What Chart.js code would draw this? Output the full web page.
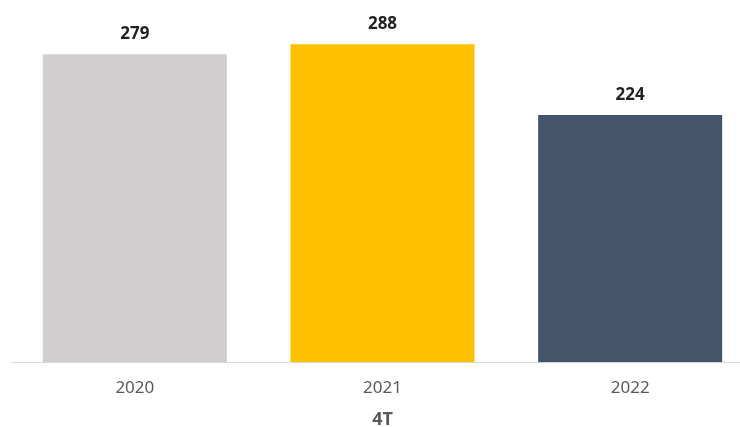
<!DOCTYPE html>
<html>
<head>
<meta charset="utf-8">
<script src="https://cdn.jsdelivr.net/npm/chart.js@4.4.1/dist/chart.umd.min.js"></script>
<style>
  html, body { margin: 0; padding: 0; background: #fff; overflow: hidden; }
  #wrap { width: 756px; height: 427px; }
</style>
</head>
<body>
<div id="wrap"><canvas id="chart" width="756" height="427"></canvas></div>
<script>
// chart data
const years = ["2020", "2021", "2022"];
const totals = [279, 288, 224];
const barColors = ["#D0CECE", "#FFC000", "#44546A"];
const axisTitle = "4T";

const FONT = "'Noto Sans', 'Open Sans', sans-serif";

// draws the value above each bar
const valueLabels = {
    id: "valueLabels",
    afterDatasetsDraw(chart) {
        const ctx = chart.ctx;
        const meta = chart.getDatasetMeta(0);
        ctx.save();
        ctx.font = "bold 17px " + FONT;
        ctx.fillStyle = "#222222";
        ctx.textAlign = "center";
        ctx.textBaseline = "alphabetic";
        meta.data.forEach((bar, i) => {
            ctx.fillText(String(totals[i]), bar.x, bar.y - 15);
        });
        ctx.restore();
    },
};

new Chart(document.getElementById("chart"), {
    type: "bar",
    data: {
        labels: years,
        datasets: [
            {
                data: totals,
                backgroundColor: barColors,
                borderWidth: 0,
                barPercentage: 0.743,
                categoryPercentage: 1,
            },
        ],
    },
    options: {
        responsive: false,
        animation: false,
        layout: { padding: { top: 31, left: 11, right: 2, bottom: 0 } },
        plugins: {
            legend: { display: false },
            tooltip: { enabled: false },
            title: {
                display: true,
                position: "bottom",
                text: axisTitle,
                color: "#595959",
                font: { family: FONT, size: 18, weight: "bold", lineHeight: 0.8 },
                padding: { top: -2, bottom: 0 },
            },
        },
        scales: {
            x: {
                grid: { display: false, drawTicks: false },
                border: { display: true, color: "#D9D9D9", width: 1 },
                ticks: {
                    color: "#595959",
                    padding: 16,
                    font: { family: FONT, size: 17 },
                },
            },
            y: {
                display: false,
                min: 0,
                max: 300,
            },
        },
    },
    plugins: [valueLabels],
});
</script>
</body>
</html>
